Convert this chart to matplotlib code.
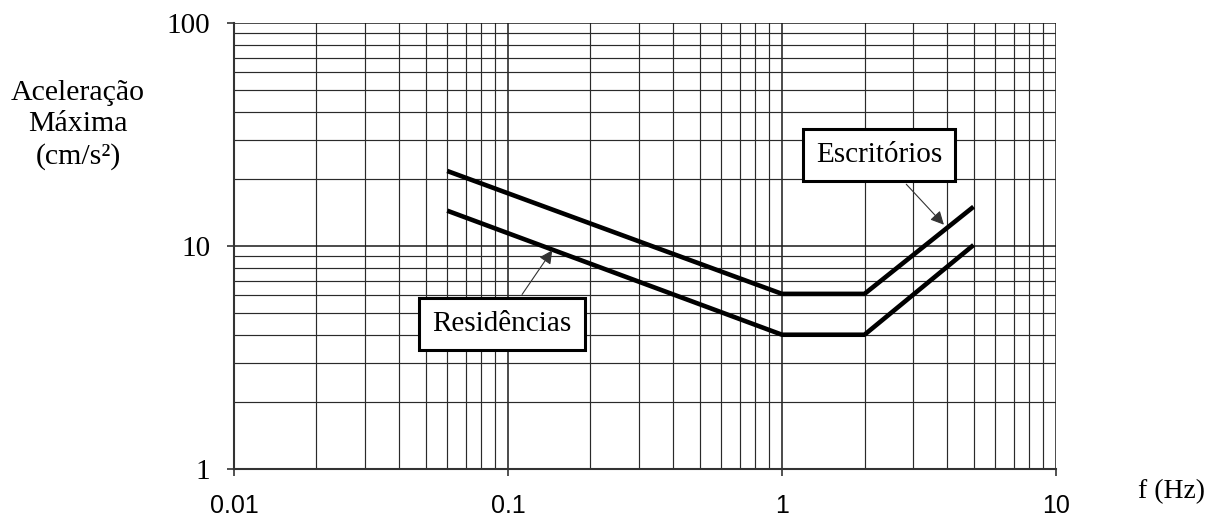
import matplotlib.pyplot as plt
from matplotlib.ticker import FixedLocator, FixedFormatter, LogLocator, NullFormatter

# ========== DATA ========== #
freq = [0.06, 1, 2, 5]
escritorios = [21.7, 6.1, 6.1, 15.0]
residencias = [14.4, 4.0, 4.0, 10.1]

x_ticks = [0.01, 0.1, 1, 10]
x_labels = ["0.01", "0.1", "1", "10"]
y_ticks = [1, 10, 100]
y_labels = ["1", "10", "100"]

SERIF = "Liberation Serif"
SANS = "Liberation Sans"

# ========== FIGURE ========== #
fig = plt.figure(figsize=(12.2, 5.16), dpi=100)
ax = fig.add_axes([0.1918, 0.0911, 0.6738, 0.8643])

ax.set_xscale("log")
ax.set_yscale("log")
ax.set_xlim(0.01, 10)
ax.set_ylim(1, 100)

ax.plot(freq, escritorios, color="black", lw=3.3, solid_capstyle="butt", zorder=3)
ax.plot(freq, residencias, color="black", lw=3.3, solid_capstyle="butt", zorder=3)

# grid
ax.xaxis.set_major_locator(FixedLocator(x_ticks))
ax.xaxis.set_major_formatter(FixedFormatter(x_labels))
ax.yaxis.set_major_locator(FixedLocator(y_ticks))
ax.yaxis.set_major_formatter(FixedFormatter(y_labels))
ax.xaxis.set_minor_locator(LogLocator(base=10, subs=range(2, 10)))
ax.yaxis.set_minor_locator(LogLocator(base=10, subs=range(2, 10)))
ax.xaxis.set_minor_formatter(NullFormatter())
ax.yaxis.set_minor_formatter(NullFormatter())
ax.grid(True, which="major", color="#1a1a1a", lw=1.1)
ax.grid(True, which="minor", color="#2a2a2a", lw=0.85)

for side in ["top", "right"]:
    ax.spines[side].set_visible(False)
for side in ["left", "bottom"]:
    ax.spines[side].set_color("#333333")
    ax.spines[side].set_linewidth(1.5)

ax.tick_params(which="major", direction="out", length=5, width=1.2, color="#333333")
ax.tick_params(which="minor", length=0)
ax.tick_params(axis="y", pad=12, labelsize=21)
ax.tick_params(axis="x", pad=13, labelsize=18)
for lbl in ax.get_yticklabels():
    lbl.set_family(SERIF)
for lbl in ax.get_xticklabels():
    lbl.set_family(SANS)

# annotations
box = dict(boxstyle="square,pad=0.45", fc="white", ec="black", lw=2.2)
arrow = dict(arrowstyle="-|>", color="#333333", lw=0.8, mutation_scale=20)
ax.annotate("Escritórios", xy=(3.96, 12.2), xytext=(2.26, 25.6),
            ha="center", va="center", fontsize=21, family=SERIF,
            bbox=box, arrowprops=arrow, zorder=5)
ax.annotate("Residências", xy=(0.147, 9.8), xytext=(0.095, 4.47),
            ha="center", va="center", fontsize=21, family=SERIF,
            bbox=box, arrowprops=arrow, zorder=5)

# axis titles
fig.text(78 / 1220, 1 - 125 / 516, "Aceleração\nMáxima\n(cm/s²)",
         ha="center", va="center", fontsize=21.5, family=SERIF, linespacing=1.25)
fig.text(1172 / 1220, 1 - 492 / 516, "f (Hz)",
         ha="center", va="center", fontsize=20, family=SERIF)

fig.savefig("out.png", dpi=100)
